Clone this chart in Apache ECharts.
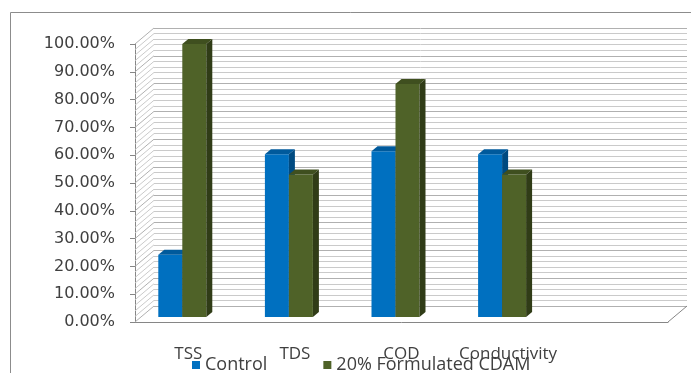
<!DOCTYPE html>
<html>
<head>
<meta charset="utf-8">
<script src="https://cdn.jsdelivr.net/npm/echarts@6/dist/echarts.min.js"></script>
<style>
  html, body { margin: 0; padding: 0; background: #fff; }
  #chart { width: 691px; height: 373px; }
</style>
</head>
<body>
<div id="chart"></div>
<script>
// categories and values (percent)
var categories = ["TSS", "TDS", "COD", "Conductivity", ""];
var controlValues = [22.4, 58.5, 59.6, 58.5];
var cdamValues = [98.2, 51.3, 83.8, 51.3];
var seriesNames = ["Control", "20% Formulated CDAM"];

// face colours: front, top, side
var barColors = [
  ["#0070C0", "#005a9c", "#004a80"],
  ["#4F6228", "#3f4f1f", "#303c17"],
];

var DEPTH_X = 19, DEPTH_Y = -16; // back wall offset
var BAR_W = 24, BAR_DX = 6, BAR_DY = -5;

var chart = echarts.init(document.getElementById("chart"));

function toData(arr) {
  return arr.map(function (v, i) {
    return [i, v];
  });
}

function barRenderer(s) {
  return function (params, api) {
    var idx = api.value(0);
    var val = api.value(1);
    var base = api.coord([idx, 0]);
    var top = api.coord([idx, val]);
    var x0 = base[0] - 6 - BAR_W + s * BAR_W;
    var yb = base[1] - 5;
    var yt = top[1] - 5;
    var c = barColors[s];
    return {
      type: "group",
      children: [
        {
          type: "rect",
          shape: { x: x0, y: yt, width: BAR_W, height: yb - yt },
          style: { fill: c[0] },
        },
        {
          type: "polygon",
          shape: {
            points: [
              [x0, yt],
              [x0 + BAR_W, yt],
              [x0 + BAR_W + BAR_DX, yt + BAR_DY],
              [x0 + BAR_DX, yt + BAR_DY],
            ],
          },
          style: { fill: c[1] },
        },
        {
          type: "polygon",
          shape: {
            points: [
              [x0 + BAR_W, yt],
              [x0 + BAR_W + BAR_DX, yt + BAR_DY],
              [x0 + BAR_W + BAR_DX, yb + BAR_DY],
              [x0 + BAR_W, yb],
            ],
          },
          style: { fill: c[2] },
        },
      ],
    };
  };
}

// side wall hatching + right floor edge, drawn from the front axis scale
function wallRenderer(params, api) {
  var cs = params.coordSys;
  var children = [];
  for (var v = 0; v <= 100; v += 2) {
    var p = api.coord([0, v]);
    children.push({
      type: "line",
      shape: { x1: cs.x, y1: p[1], x2: cs.x + DEPTH_X, y2: p[1] + DEPTH_Y },
      style: { stroke: v % 10 === 0 ? "#b0b0b0" : "#cacaca", lineWidth: 1 },
    });
  }
  var b = api.coord([0, 0]);
  children.push({
    type: "line",
    shape: {
      x1: cs.x + cs.width,
      y1: b[1],
      x2: cs.x + cs.width + DEPTH_X,
      y2: b[1] + DEPTH_Y,
    },
    style: { stroke: "#868686", lineWidth: 1 },
  });
  return { type: "group", children: children };
}

chart.setOption({
  animation: false,
  color: [barColors[0][0], barColors[1][0]],
  graphic: [
    {
      type: "polyline",
      shape: { points: [[10.5, 373], [10.5, 12.5], [691, 12.5]] },
      style: { stroke: "#8c8c8c", lineWidth: 1, fill: null },
    },
  ],
  legend: {
    left: 187,
    top: 351,
    itemWidth: 8,
    itemHeight: 8,
    itemGap: 56,
    icon: "rect",
    textStyle: { fontFamily: "Open Sans", fontSize: 18, color: "#404040" },
    data: seriesNames,
  },
  grid: [
    { left: 135, right: 23, top: 44, bottom: 51 },
    { left: 135 + DEPTH_X, right: 23 - DEPTH_X, top: 44 + DEPTH_Y, bottom: 51 - DEPTH_Y },
  ],
  xAxis: [
    {
      type: "category",
      gridIndex: 0,
      data: categories,
      axisLine: { lineStyle: { color: "#868686" } },
      axisTick: { length: 5, lineStyle: { color: "#868686" } },
      axisLabel: {
        interval: 0,
        margin: 24,
        fontFamily: "Open Sans",
        fontSize: 17,
        color: "#404040",
      },
    },
    {
      type: "category",
      gridIndex: 1,
      data: categories,
      show: false,
    },
  ],
  yAxis: [
    {
      type: "value",
      gridIndex: 0,
      min: 0,
      max: 100,
      interval: 10,
      axisLine: { show: true, lineStyle: { color: "#868686" } },
      axisTick: { show: true, length: 5, lineStyle: { color: "#868686" } },
      splitLine: { show: false },
      axisLabel: {
        margin: 20,
        fontFamily: "DejaVu Sans",
        fontSize: 16,
        color: "#404040",
        formatter: function (v) {
          return v.toFixed(2) + "%";
        },
      },
    },
    {
      type: "value",
      gridIndex: 1,
      min: 0,
      max: 100,
      interval: 10,
      axisLine: { show: false },
      axisTick: { show: false },
      axisLabel: { show: false },
      splitLine: { show: true, lineStyle: { color: "#b0b0b0" } },
      minorTick: { show: false, splitNumber: 5 },
      minorSplitLine: { show: true, lineStyle: { color: "#cacaca" } },
    },
  ],
  series: [
    {
      type: "custom",
      xAxisIndex: 0,
      yAxisIndex: 0,
      silent: true,
      z: 1,
      data: [[0, 0]],
      renderItem: wallRenderer,
    },
    {
      name: seriesNames[0],
      type: "custom",
      xAxisIndex: 0,
      yAxisIndex: 0,
      z: 5,
      itemStyle: { color: barColors[0][0] },
      data: toData(controlValues),
      renderItem: barRenderer(0),
    },
    {
      name: seriesNames[1],
      type: "custom",
      xAxisIndex: 0,
      yAxisIndex: 0,
      z: 6,
      itemStyle: { color: barColors[1][0] },
      data: toData(cdamValues),
      renderItem: barRenderer(1),
    },
  ],
});
</script>
</body>
</html>
